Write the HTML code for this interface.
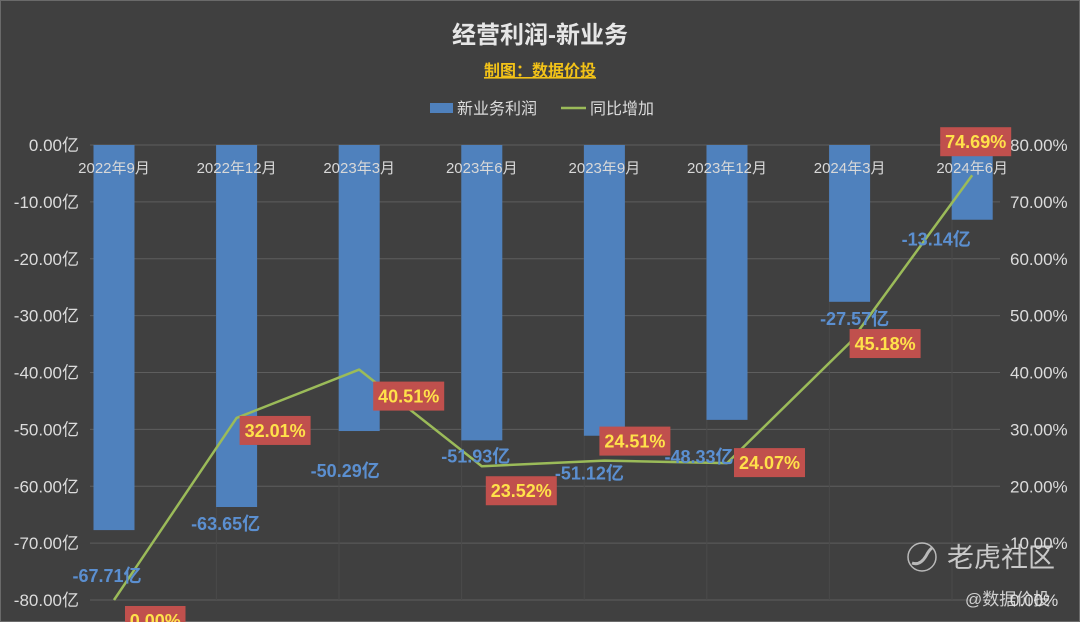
<!DOCTYPE html>
<html><head><meta charset="utf-8">
<style>
html,body{margin:0;padding:0;background:#404040;}
svg{display:block;font-family:"Liberation Sans","Noto Sans CJK SC",sans-serif;}
</style></head>
<body>
<svg id="chart" width="1080" height="622" viewBox="0 0 1080 622">
<rect x="0.5" y="0.5" width="1079" height="621" fill="#404040" stroke="#6a6a6a"/>
<text x="540" y="43" text-anchor="middle" font-size="24" font-weight="bold" fill="#e6e6e6">经营利润-新业务</text>
<text x="540" y="76" text-anchor="middle" font-size="16" font-weight="bold" fill="#f2c218" text-decoration="underline">制图：数据价投</text>
<g>
<g><rect x="430" y="103" width="23" height="10" fill="#4f81bd"/><text x="457" y="114" font-size="16" fill="#dcdcdc">新业务利润</text></g>
<g><line x1="561" y1="108" x2="586" y2="108" stroke="#9bbb59" stroke-width="2.5"/><text x="590" y="114" font-size="16" fill="#dcdcdc">同比增加</text></g>
</g>
<g id="grid"></g>
<g id="bars"></g>
<g id="yleft"></g>
<g id="yright"></g>
<g id="xcat"></g>
<g id="line"></g>
<g id="labels"></g>
<g opacity="0.85">
<circle cx="922" cy="557" r="14" fill="none" stroke="#cfcfcf" stroke-width="1.5"/>
<path d="M912 563 Q920 566 926 556 Q929 550 932 548" fill="none" stroke="#cfcfcf" stroke-width="3"/>
<text x="947" y="567" font-size="27" fill="#e0e0e0">老虎社区</text>
<text x="965" y="605" font-size="17" fill="#e8e8e8">@数据价投</text>
</g>
</svg>
<script>
const categories=["2022年9月","2022年12月","2023年3月","2023年6月","2023年9月","2023年12月","2024年3月","2024年6月"];
const profitValues=[-67.71,-63.65,-50.29,-51.93,-51.12,-48.33,-27.57,-13.14];
const yoyValues=[0.00,32.01,40.51,23.52,24.51,24.07,45.18,74.69];
const leftTicks=[0,-10,-20,-30,-40,-50,-60,-70,-80];
const rightTicks=[80,70,60,50,40,30,20,10,0];
const NS="http://www.w3.org/2000/svg";
const top0=145,bot=600,x0=114,step=122.6,plotL=90,plotR=1000;
const yL=v=>top0+(0-v)/80*(bot-top0);
const yR=v=>bot-v/80*(bot-top0);
const xC=i=>x0+i*step;
function mk(tag,attrs,parent,txt){const e=document.createElementNS(NS,tag);for(const k in attrs)e.setAttribute(k,attrs[k]);if(txt!==undefined)e.textContent=txt;parent.appendChild(e);return e;}
const grid=document.getElementById('grid');
leftTicks.forEach((t,i)=>{
  const l=mk('line',{x1:plotL,x2:plotR,y1:yL(t),y2:yL(t),stroke:'#5e5e5e','stroke-width':1},grid);
  
  
});
for(let k=0;k<=7;k++){
  const xx=339+(k-1)*step;
  if(xx<plotL||xx>plotR)continue;
  const l=mk('line',{x1:xx,x2:xx,y1:top0,y2:bot,stroke:'#4a4a4a','stroke-width':1},grid);
  
  
}
const bars=document.getElementById('bars');
profitValues.forEach((v,i)=>{
  const r=mk('rect',{x:xC(i)-20.5,y:yL(0),width:41,height:yL(v)-yL(0),fill:'#4f81bd'},bars);
  
  
});
const yl=document.getElementById('yleft');
leftTicks.forEach(t=>{
  const e=mk('text',{x:79,y:yL(t)+6,'text-anchor':'end','font-size':17,fill:'#dcdcdc'},yl,t.toFixed(2)+'亿');
  
  
});
const yr=document.getElementById('yright');
rightTicks.forEach(t=>{
  const e=mk('text',{x:1010,y:yR(t)+6,'font-size':17,fill:'#dcdcdc'},yr,t.toFixed(2)+'%');
  
  
});
const xc=document.getElementById('xcat');
categories.forEach((c,i)=>{
  const e=mk('text',{x:xC(i),y:173,'text-anchor':'middle','font-size':15,fill:'#d8d8d8'},xc,c);
  
  
});
const lg=document.getElementById('line');
const pts=yoyValues.map((v,i)=>xC(i)+','+yR(v)).join(' ');
const pl=mk('polyline',{points:pts,fill:'none',stroke:'#9bbb59','stroke-width':2.5,'stroke-linejoin':'round'},lg);


const lb=document.getElementById('labels');
const barLabelOff=[[-7,46],[-11,17],[-14,40],[-6,16],[-15,38],[-28,37],[5,17],[-36,20]];
profitValues.forEach((v,i)=>{
  const o=barLabelOff[i];
  const e=mk('text',{x:xC(i)+o[0],y:yL(v)+o[1]+6,'text-anchor':'middle','font-size':18,'font-weight':'bold',fill:'#5b8fd0'},lb,v.toFixed(2)+'亿');
  
  
});
const pctOff=[[11,6],[3,-2],[14,12],[4,10],[-5,-34],[7,-15],[0,-14],[-32,-48]];
yoyValues.forEach((v,i)=>{
  const o=pctOff[i];const txt=v.toFixed(2)+'%';
  const w=txt.length*10.5+8;
  const bx=xC(i)+o[0],by=yR(v)+o[1];
  const g=mk('g',{},lb);
  
  
  mk('rect',{x:bx,y:by,width:w,height:29,fill:'#c0504d'},g);
  mk('text',{x:bx+w/2,y:by+21,'text-anchor':'middle','font-size':18,'font-weight':'bold',fill:'#ffe14a'},g,txt);
});
</script>
</body></html>
